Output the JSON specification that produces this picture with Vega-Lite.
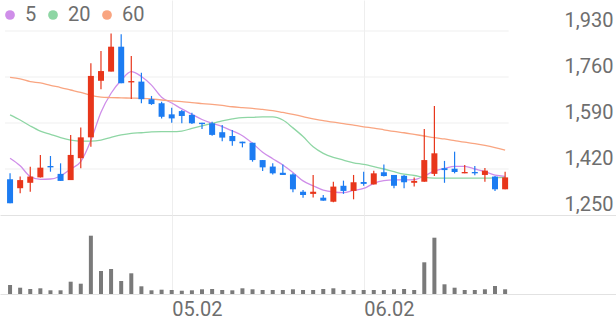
{
  "$schema": "https://vega.github.io/schema/vega-lite/v6.json",
  "padding": 0,
  "spacing": 0,
  "background": "white",
  "config": {"view": {"stroke": null}, "font": "Roboto"},
  "data": {"values": [
    {"i":0,"d":"04.09","o":1382,"h":1404,"l":1293,"c":1293,"v":90000,"m5":1460,"m20":1620,"m60":1759},
    {"i":1,"d":"04.10","o":1349,"h":1392,"l":1330,"c":1379,"v":63000,"m5":1432,"m20":1601,"m60":1753},
    {"i":2,"d":"04.11","o":1369,"h":1428,"l":1336,"c":1392,"v":50000,"m5":1392,"m20":1579,"m60":1743},
    {"i":3,"d":"04.14","o":1389,"h":1472,"l":1389,"c":1425,"v":57000,"m5":1382,"m20":1560,"m60":1738},
    {"i":4,"d":"04.15","o":1431,"h":1468,"l":1410,"c":1426,"v":37000,"m5":1383,"m20":1548,"m60":1729},
    {"i":5,"d":"04.16","o":1402,"h":1441,"l":1376,"c":1376,"v":37000,"m5":1394,"m20":1536,"m60":1721},
    {"i":6,"d":"04.17","o":1379,"h":1546,"l":1379,"c":1472,"v":123000,"m5":1420,"m20":1527,"m60":1712},
    {"i":7,"d":"04.18","o":1460,"h":1573,"l":1423,"c":1537,"v":103000,"m5":1447,"m20":1523,"m60":1703},
    {"i":8,"d":"04.21","o":1537,"h":1811,"l":1502,"c":1764,"v":583000,"m5":1525,"m20":1523,"m60":1692},
    {"i":9,"d":"04.22","o":1746,"h":1856,"l":1715,"c":1782,"v":230000,"m5":1630,"m20":1527,"m60":1686},
    {"i":10,"d":"04.23","o":1780,"h":1921,"l":1780,"c":1872,"v":250000,"m5":1700,"m20":1537,"m60":1684},
    {"i":11,"d":"04.24","o":1872,"h":1918,"l":1737,"c":1737,"v":130000,"m5":1748,"m20":1546,"m60":1683},
    {"i":12,"d":"04.25","o":1740,"h":1838,"l":1679,"c":1745,"v":207000,"m5":1780,"m20":1552,"m60":1682},
    {"i":13,"d":"04.28","o":1743,"h":1776,"l":1663,"c":1678,"v":77000,"m5":1762,"m20":1554,"m60":1681},
    {"i":14,"d":"04.29","o":1678,"h":1690,"l":1657,"c":1660,"v":37000,"m5":1730,"m20":1557,"m60":1679},
    {"i":15,"d":"04.30","o":1663,"h":1669,"l":1607,"c":1613,"v":43000,"m5":1685,"m20":1558,"m60":1675},
    {"i":16,"d":"05.02","o":1622,"h":1646,"l":1591,"c":1607,"v":40000,"m5":1664,"m20":1558,"m60":1672},
    {"i":17,"d":"05.07","o":1634,"h":1638,"l":1589,"c":1616,"v":33000,"m5":1642,"m20":1560,"m60":1669},
    {"i":18,"d":"05.08","o":1620,"h":1628,"l":1586,"c":1589,"v":37000,"m5":1622,"m20":1570,"m60":1665},
    {"i":19,"d":"05.09","o":1591,"h":1591,"l":1568,"c":1586,"v":47000,"m5":1603,"m20":1579,"m60":1662},
    {"i":20,"d":"05.12","o":1589,"h":1595,"l":1543,"c":1546,"v":50000,"m5":1589,"m20":1589,"m60":1659},
    {"i":21,"d":"05.13","o":1556,"h":1583,"l":1523,"c":1536,"v":40000,"m5":1577,"m20":1598,"m60":1655},
    {"i":22,"d":"05.14","o":1542,"h":1564,"l":1506,"c":1523,"v":37000,"m5":1561,"m20":1605,"m60":1650},
    {"i":23,"d":"05.15","o":1521,"h":1521,"l":1500,"c":1515,"v":57000,"m5":1543,"m20":1610,"m60":1647},
    {"i":24,"d":"05.16","o":1517,"h":1517,"l":1447,"c":1453,"v":47000,"m5":1515,"m20":1611,"m60":1644},
    {"i":25,"d":"05.19","o":1453,"h":1453,"l":1413,"c":1426,"v":40000,"m5":1482,"m20":1613,"m60":1640},
    {"i":26,"d":"05.20","o":1429,"h":1441,"l":1400,"c":1404,"v":40000,"m5":1458,"m20":1613,"m60":1636},
    {"i":27,"d":"05.21","o":1406,"h":1437,"l":1398,"c":1398,"v":40000,"m5":1435,"m20":1601,"m60":1629},
    {"i":28,"d":"05.22","o":1400,"h":1404,"l":1334,"c":1345,"v":47000,"m5":1407,"m20":1572,"m60":1622},
    {"i":29,"d":"05.23","o":1336,"h":1342,"l":1314,"c":1324,"v":40000,"m5":1376,"m20":1540,"m60":1614},
    {"i":30,"d":"05.26","o":1328,"h":1398,"l":1315,"c":1336,"v":40000,"m5":1358,"m20":1502,"m60":1605},
    {"i":31,"d":"05.27","o":1314,"h":1324,"l":1303,"c":1303,"v":50000,"m5":1342,"m20":1478,"m60":1599},
    {"i":32,"d":"05.28","o":1299,"h":1373,"l":1297,"c":1355,"v":57000,"m5":1335,"m20":1463,"m60":1593},
    {"i":33,"d":"05.29","o":1358,"h":1377,"l":1328,"c":1339,"v":40000,"m5":1333,"m20":1453,"m60":1588},
    {"i":34,"d":"05.30","o":1339,"h":1398,"l":1308,"c":1371,"v":40000,"m5":1341,"m20":1443,"m60":1582},
    {"i":35,"d":"06.02","o":1372,"h":1410,"l":1358,"c":1365,"v":40000,"m5":1348,"m20":1437,"m60":1576},
    {"i":36,"d":"06.04","o":1363,"h":1414,"l":1363,"c":1404,"v":40000,"m5":1367,"m20":1429,"m60":1571},
    {"i":37,"d":"06.05","o":1408,"h":1437,"l":1392,"c":1394,"v":40000,"m5":1377,"m20":1420,"m60":1565},
    {"i":38,"d":"06.09","o":1398,"h":1398,"l":1349,"c":1358,"v":47000,"m5":1380,"m20":1410,"m60":1559},
    {"i":39,"d":"06.10","o":1395,"h":1398,"l":1349,"c":1371,"v":50000,"m5":1380,"m20":1401,"m60":1554},
    {"i":40,"d":"06.11","o":1369,"h":1389,"l":1355,"c":1376,"v":40000,"m5":1381,"m20":1396,"m60":1548},
    {"i":41,"d":"06.12","o":1373,"h":1568,"l":1373,"c":1453,"v":317000,"m5":1394,"m20":1389,"m60":1542},
    {"i":42,"d":"06.13","o":1402,"h":1653,"l":1394,"c":1478,"v":563000,"m5":1413,"m20":1386,"m60":1536},
    {"i":43,"d":"06.16","o":1423,"h":1450,"l":1369,"c":1416,"v":97000,"m5":1422,"m20":1386,"m60":1531},
    {"i":44,"d":"06.17","o":1421,"h":1484,"l":1404,"c":1409,"v":63000,"m5":1430,"m20":1386,"m60":1525},
    {"i":45,"d":"06.18","o":1404,"h":1435,"l":1404,"c":1409,"v":40000,"m5":1430,"m20":1386,"m60":1519},
    {"i":46,"d":"06.19","o":1409,"h":1431,"l":1397,"c":1404,"v":40000,"m5":1420,"m20":1386,"m60":1514},
    {"i":47,"d":"06.20","o":1398,"h":1424,"l":1373,"c":1414,"v":47000,"m5":1410,"m20":1386,"m60":1507},
    {"i":48,"d":"06.23","o":1392,"h":1394,"l":1339,"c":1345,"v":80000,"m5":1397,"m20":1387,"m60":1499},
    {"i":49,"d":"06.24","o":1345,"h":1410,"l":1345,"c":1389,"v":47000,"m5":1393,"m20":1389,"m60":1490}
  ]},
  "vconcat": [
    {
      "width": 616,
      "height": 215,
      "layer": [
        {
          "data": {"values": [{"p":1420},{"p":1590},{"p":1760},{"p":1930}]},
          "mark": {"type": "rule", "color": "#efefef", "strokeWidth": 1},
          "encoding": {
            "y": {"field": "p", "type": "quantitative", "title": null, "scale": {"domain": [1250, 2044.6], "nice": false, "zero": false},
              "axis": {"orient": "right", "values": [1250, 1420, 1590, 1760, 1930], "labelExpr": "format(datum.value, ',')", "grid": false, "ticks": false, "domain": false, "labelAlign": "right", "labelPadding": -3, "labelBaseline": "alphabetic", "labelOffset": -5, "labelFontSize": 20, "labelColor": "#6e6e6e", "labelFont": "Roboto"}},
            "x": {"datum": -0.5, "type": "quantitative", "title": null, "scale": {"domain": [-0.5, 59.48], "nice": false, "zero": false},
              "axis": {"orient": "bottom", "values": [16, 35], "grid": true, "gridColor": "#eeeeee", "labels": false, "ticks": false, "domain": true, "domainColor": "#e2e2e2"}},
            "x2": {"datum": 49.35}
          }
        },
        {
          "transform": [{"fold": ["m5", "m20", "m60"], "as": ["k", "mv"]}],
          "mark": {"type": "line", "strokeWidth": 1.3, "interpolate": "monotone"},
          "encoding": {
            "x": {"field": "i", "type": "quantitative", "title": null},
            "y": {"field": "mv", "type": "quantitative", "title": null},
            "color": {"field": "k", "type": "nominal", "title": null,
              "scale": {"domain": ["m5", "m20", "m60"], "range": ["#cf8ee9", "#8ed6a4", "#f9a581"]},
              "legend": {"orient": "none", "legendX": 0, "legendY": 5, "direction": "horizontal", "title": null, "symbolType": "circle", "symbolSize": 95, "labelFontSize": 20, "labelColor": "#6e6e6e", "labelOffset": 5, "columnPadding": 6, "padding": 0,
                "labelExpr": "replace(datum.label, 'm', '')",
                "encode": {"symbols": {"update": {"fill": {"signal": "datum.value === 'm5' ? '#cf8ee9' : datum.value === 'm20' ? '#8ed6a4' : '#f9a581'"}, "strokeWidth": {"value": 0}, "opacity": {"value": 1}}}}}
            }
          }
        },
        {
          "mark": {"type": "rule", "strokeWidth": 1.2},
          "encoding": {
            "x": {"field": "i", "type": "quantitative", "title": null},
            "y": {"field": "l", "type": "quantitative", "title": null},
            "y2": {"field": "h"},
            "color": {"condition": {"test": "datum.c >= datum.o", "value": "#e8361b"}, "value": "#1c7cf2"}
          }
        },
        {
          "mark": {"type": "bar", "size": 6},
          "encoding": {
            "x": {"field": "i", "type": "quantitative", "title": null},
            "y": {"field": "o", "type": "quantitative", "title": null},
            "y2": {"field": "c"},
            "color": {"condition": {"test": "datum.c >= datum.o", "value": "#e8361b"}, "value": "#1c7cf2"}
          }
        }
      ]
    },
    {
      "width": 616,
      "height": 79,
      "mark": {"type": "bar", "size": 4, "color": "#7a7a7a"},
      "encoding": {
        "x": {"field": "i", "type": "quantitative", "title": null, "scale": {"domain": [-0.5, 59.48], "nice": false, "zero": false},
          "axis": {"orient": "bottom", "values": [16, 35], "grid": true, "gridColor": "#eeeeee", "ticks": false, "domain": true, "domainColor": "#e2e2e2", "labelExpr": "datum.value == 16 ? '05.02' : '06.02'", "labelAlign": "left", "labelBaseline": "top", "labelPadding": 5, "labelFontSize": 20, "labelColor": "#6e6e6e", "labelFont": "Roboto"}},
        "y": {"field": "v", "type": "quantitative", "title": null, "axis": null, "scale": {"domain": [0, 790000], "nice": false}}
      }
    }
  ]
}
